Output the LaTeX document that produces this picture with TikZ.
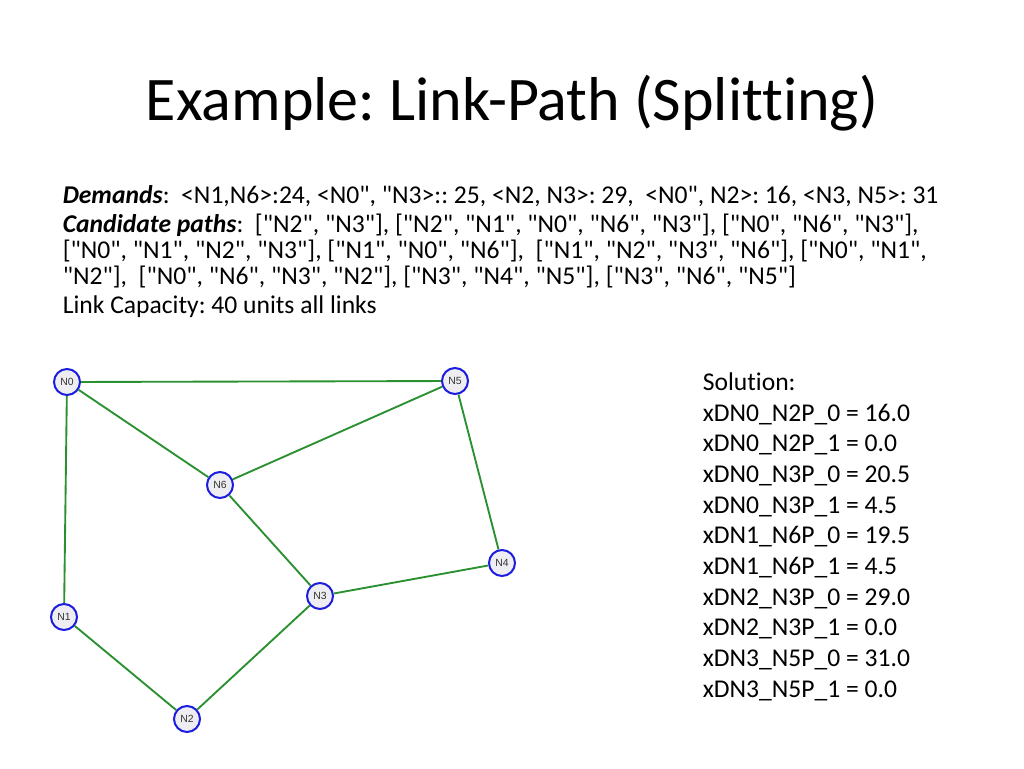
\documentclass[tikz,border=0pt]{standalone}
\usepackage{fontspec}
\setmainfont{Carlito}[Ligatures={TeXOff,NoCommon}]
\newfontfamily\labelfont{Liberation Sans}
\frenchspacing
\usetikzlibrary{positioning}
\definecolor{cblue}{HTML}{1C1CE0}
\definecolor{cgreen}{HTML}{2A9030}
\definecolor{cfill}{HTML}{EEEEF2}
\definecolor{clabel}{HTML}{333333}
\tikzset{
  every picture/.style={line width=1.2pt},
  netnode/.style={circle, draw=cblue, fill=cfill, text=clabel, line width=1.5pt, minimum size=19.5pt, inner sep=0pt, font=\labelfont\fontsize{7.8}{9}\selectfont},
  link/.style={draw=cgreen, line width=1.4pt},
  title/.style={font=\fontsize{46.5}{50}\selectfont, anchor=base},
  body/.style={font=\fontsize{19.2}{19.5}\selectfont, anchor=base west, align=left, inner sep=0pt},
  soltext/.style={font=\fontsize{19.2}{23}\selectfont, anchor=base west, align=left, inner sep=0pt},
}

\begin{document}
\begin{tikzpicture}[x=0.75pt, y=-0.75pt]
  \useasboundingbox (0,0) rectangle (1024,768);
  % title
  \node[title] (head) at (512,120) {Example: Link-Path (Splitting)};
  % problem text (base of a multi-line node = its last line)
  \node[body] (demands) at (62,203) {\textbf{\textit{Demands}}:\ \ <N1,N6>:24, <N0", "N3>:: 25, <N2, N3>: 29,\ \ <N0", N2>: 16, <N3, N5>: 31};
  \node[body] (paths) at (62,284) {\textbf{\textit{Candidate paths}}:\ \ ["N2", "N3"], ["N2", "N1", "N0", "N6", "N3"], ["N0", "N6", "N3"],\\\relax
    ["N0", "N1", "N2", "N3"], ["N1", "N0", "N6"],\ \ ["N1", "N2", "N3", "N6"], ["N0", "N1",\\\relax
    "N2"],\ \ ["N0", "N6", "N3", "N2"], ["N3", "N4", "N5"], ["N3", "N6", "N5"]};
  \node[body] (capacity) at (62,313) {Link Capacity: 40 units all links};
  % network
  \node[netnode] (n0) at (67,382) {N0};
  \node[netnode] (n5) at (455,381) {N5};
  \node[netnode] (n6) at (220,485) {N6};
  \node[netnode] (n4) at (502,563) {N4};
  \node[netnode] (n3) at (320,596) {N3};
  \node[netnode] (n1) at (64,617) {N1};
  \node[netnode] (n2) at (187,719) {N2};
  \foreach \a/\b in {n0/n5, n0/n6, n0/n1, n6/n5, n5/n4, n6/n3, n3/n4, n3/n2, n1/n2}
    \draw[link] (\a) -- (\b);
  % solution
  \node[soltext] (solution) at (702,697) {Solution:\\
    xDN0\_N2P\_0 = 16.0\\ xDN0\_N2P\_1 = 0.0\\ xDN0\_N3P\_0 = 20.5\\ xDN0\_N3P\_1 = 4.5\\
    xDN1\_N6P\_0 = 19.5\\ xDN1\_N6P\_1 = 4.5\\ xDN2\_N3P\_0 = 29.0\\ xDN2\_N3P\_1 = 0.0\\
    xDN3\_N5P\_0 = 31.0\\ xDN3\_N5P\_1 = 0.0};
\end{tikzpicture}
\end{document}
